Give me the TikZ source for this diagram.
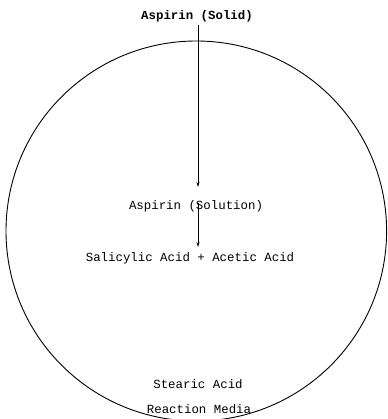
\documentclass[tikz,border=0pt]{standalone}
\usepackage{fontspec}
\setmonofont{Liberation Mono}
\usetikzlibrary{arrows.meta}
\tikzset{
  lbl/.style={font=\ttfamily\fontsize{12.4}{14}\selectfont, inner sep=0pt, anchor=base},
  flow/.style={line width=0.9pt, -{Stealth[length=5pt,width=3pt]}},
}
\begin{document}
\begin{tikzpicture}[x=1pt,y=-1pt]
\useasboundingbox (0,0) rectangle (387,419);
\draw[line width=0.9pt] (196.3,231) ellipse [x radius=190.3, y radius=190];
\node[lbl, font=\ttfamily\bfseries\fontsize{12.4}{14}\selectfont] (solid) at (197,20) {Aspirin (Solid)};
\node[lbl] (solution) at (196,210) {Aspirin (Solution)};
\node[lbl] (products) at (190,261) {Salicylic Acid + Acetic Acid};
\node[lbl] (stearic) at (198,388.5) {Stearic Acid};
\node[lbl] (media) at (199,413.5) {Reaction Media};
\coordinate (a1s) at (198,25);
\coordinate (a1e) at (198,187);
\coordinate (a2s) at (198,203);
\coordinate (a2e) at (198,247);
\draw[flow] (a1s) -- (a1e);
\draw[flow] (a2s) -- (a2e);
\end{tikzpicture}
\end{document}
